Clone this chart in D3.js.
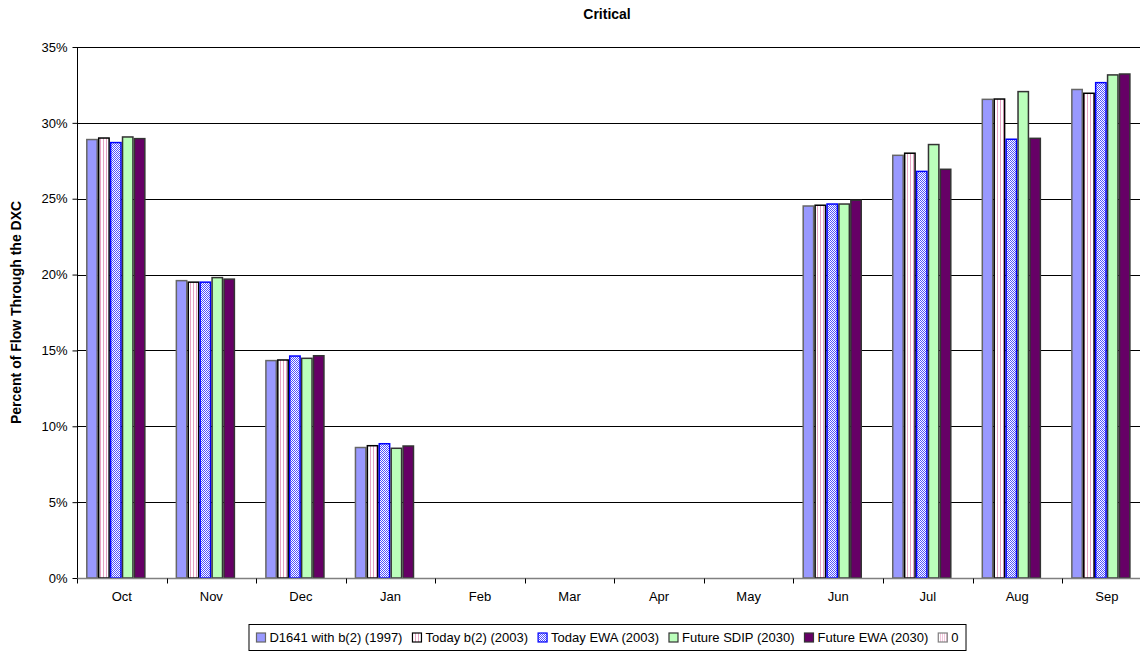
<!DOCTYPE html>
<html>
<head>
<meta charset="utf-8">
<script src="https://cdn.jsdelivr.net/npm/d3@7"></script>
<style>
  html, body { margin: 0; padding: 0; background: #fff; }
  svg { display: block; font-family: "Liberation Sans", Arial, sans-serif; }
</style>
</head>
<body>
<svg id="chart" width="1140" height="651"></svg>
<script>
// ---- data ----
const months = ["Oct","Nov","Dec","Jan","Feb","Mar","Apr","May","Jun","Jul","Aug","Sep"];
const seriesNames = ["D1641 with b(2) (1997)","Today b(2) (2003)","Today EWA (2003)","Future SDIP (2030)","Future EWA (2030)","0"];
const d1641   = [28.9, 19.6, 14.33, 8.6, 0, 0, 0, 0, 24.52, 27.86, 31.55, 32.2];
const todayB2 = [29.0, 19.5, 14.37, 8.72, 0, 0, 0, 0, 24.57, 28.0, 31.57, 31.95];
const todayEWA= [28.7, 19.5, 14.63, 8.85, 0, 0, 0, 0, 24.65, 26.8, 28.92, 32.65];
const futSDIP = [29.07, 19.8, 14.48, 8.55, 0, 0, 0, 0, 24.65, 28.57, 32.06, 33.16];
const futEWA  = [28.96, 19.7, 14.65, 8.7, 0, 0, 0, 0, 24.9, 26.94, 28.98, 33.22];
const zeroSer = [0,0,0,0,0,0,0,0,0,0,0,0];
const yTicks = [0, 0.05, 0.10, 0.15, 0.20, 0.25, 0.30, 0.35];
const title = "Critical";
const yTitle = "Percent of Flow Through the DXC";

const allSeries = [d1641, todayB2, todayEWA, futSDIP, futEWA, zeroSer];
const styles = [
  {fill: "#9999FF", stroke: "#666666"},
  {fill: "url(#pB2)", stroke: "#000000"},
  {fill: "url(#pEWA)", stroke: "#0000FF"},
  {fill: "#BBFFBB", stroke: "#333333"},
  {fill: "#660066", stroke: "#333333"},
  {fill: "url(#pZero)", stroke: "#808080"}
];

const svg = d3.select("#chart");
const defs = svg.append("defs");
const p1 = defs.append("pattern").attr("id","pB2").attr("patternUnits","userSpaceOnUse").attr("width",3).attr("height",3);
p1.append("rect").attr("width",3).attr("height",3).attr("fill","#ffffff");
p1.append("rect").attr("x",1).attr("width",1).attr("height",3).attr("fill","#E6A3C3");
const p2 = defs.append("pattern").attr("id","pEWA").attr("patternUnits","userSpaceOnUse").attr("width",2).attr("height",2);
p2.append("rect").attr("width",2).attr("height",2).attr("fill","#ffffff");
p2.append("rect").attr("width",1).attr("height",1).attr("fill","#5050FF");
p2.append("rect").attr("x",1).attr("y",1).attr("width",1).attr("height",1).attr("fill","#5050FF");
const p3 = defs.append("pattern").attr("id","pZero").attr("patternUnits","userSpaceOnUse").attr("width",2).attr("height",2);
p3.append("rect").attr("width",2).attr("height",2).attr("fill","#ffffff");
p3.append("rect").attr("width",1).attr("height",2).attr("fill","#F2C6DC");

const plotL = 77, plotR = 1151.6, plotT = 47, plotB = 578;

const x0 = d3.scaleBand().domain(months).range([plotL, plotR]).paddingInner(0).paddingOuter(0);
const x1 = d3.scaleBand().domain(d3.range(seriesNames.length)).range([0, x0.bandwidth()]).paddingInner(0).paddingOuter(0.76);
const y = d3.scaleLinear().domain([0, 0.35]).range([plotB, plotT]);

// gridlines
svg.append("g").selectAll("line").data(yTicks.filter(t => t > 0)).join("line")
  .attr("x1", plotL).attr("x2", plotR)
  .attr("y1", d => Math.round(y(d)) + 0.5).attr("y2", d => Math.round(y(d)) + 0.5)
  .attr("stroke", "#000").attr("stroke-width", 1);

// bars
const gBars = svg.append("g");
allSeries.forEach((vals, si) => {
  gBars.append("g").selectAll("rect").data(vals.map((v, i) => ({m: months[i], v})))
    .join("rect")
    .filter(d => d.v > 0)
    .attr("x", d => x0(d.m) + x1(si) + 0.75)
    .attr("width", x1.bandwidth() - 1.5)
    .attr("y", d => y(d.v / 100))
    .attr("height", d => plotB - y(d.v / 100))
    .attr("fill", styles[si].fill)
    .attr("stroke", styles[si].stroke)
    .attr("stroke-width", 1.5);
});

// y axis
const yAxis = d3.axisLeft(y).tickValues(yTicks).tickFormat(d3.format(".0%")).tickSize(5).tickPadding(5);
const gy = svg.append("g").attr("transform", `translate(${plotL + 0.5},0)`).call(yAxis);
gy.select(".domain").attr("stroke", "#000").attr("d", `M0,${plotT}V${plotB}`);
gy.selectAll(".tick line").attr("stroke", "#000");
gy.selectAll("text").attr("font-size", 13).attr("fill", "#000").attr("font-family", "Liberation Sans, Arial, sans-serif");

// x axis
const gx = svg.append("g").attr("transform", `translate(0,${plotB + 0.5})`);
gx.append("line").attr("x1", plotL).attr("x2", plotR).attr("stroke", "#808080").attr("stroke-width", 1.5);
gx.selectAll("line.tk").data(months.concat(["end"])).join("line").attr("class","tk")
  .attr("x1", (d, i) => Math.round(plotL + i * x0.step()) + 0.5)
  .attr("x2", (d, i) => Math.round(plotL + i * x0.step()) + 0.5)
  .attr("y1", 0).attr("y2", 5).attr("stroke", "#000");
gx.selectAll("text").data(months).join("text")
  .attr("x", d => x0(d) + x0.bandwidth() / 2)
  .attr("y", 22)
  .attr("text-anchor", "middle")
  .attr("font-size", 13)
  .text(d => d);

// title
svg.append("text").attr("x", 607).attr("y", 19).attr("text-anchor", "middle")
  .attr("font-size", 14).attr("font-weight", "bold").text(title);

// y title
svg.append("text").attr("transform", `translate(21,${(plotT + plotB) / 2}) rotate(-90)`)
  .attr("text-anchor", "middle").attr("font-size", 14).attr("font-weight", "bold").text(yTitle);

// legend
const lg = svg.append("g");
const fs = 13;
let items = [];
let cx = 0;
const tmp = lg.append("text").attr("font-size", fs);
seriesNames.forEach((n, i) => {
  tmp.text(n);
  const w = tmp.node().getComputedTextLength();
  items.push({n, i, x: cx, w});
  cx += 13 + w + 10;
});
tmp.remove();
const totalW = cx - 10;
const lgX = 607.5 - totalW / 2;
const lgY = 624;
lg.append("rect").attr("x", lgX - 7.5).attr("y", lgY + 0.5).attr("width", totalW + 15).attr("height", 26)
  .attr("fill", "#fff").attr("stroke", "#000").attr("stroke-width", 1);
items.forEach(it => {
  lg.append("rect").attr("x", lgX + it.x).attr("y", lgY + 9).attr("width", 9).attr("height", 9)
    .attr("fill", styles[it.i].fill).attr("stroke", styles[it.i].stroke).attr("stroke-width", 1.2);
  lg.append("text").attr("x", lgX + it.x + 13).attr("y", lgY + 18).attr("font-size", fs).text(it.n);
});
</script>
</body>
</html>
